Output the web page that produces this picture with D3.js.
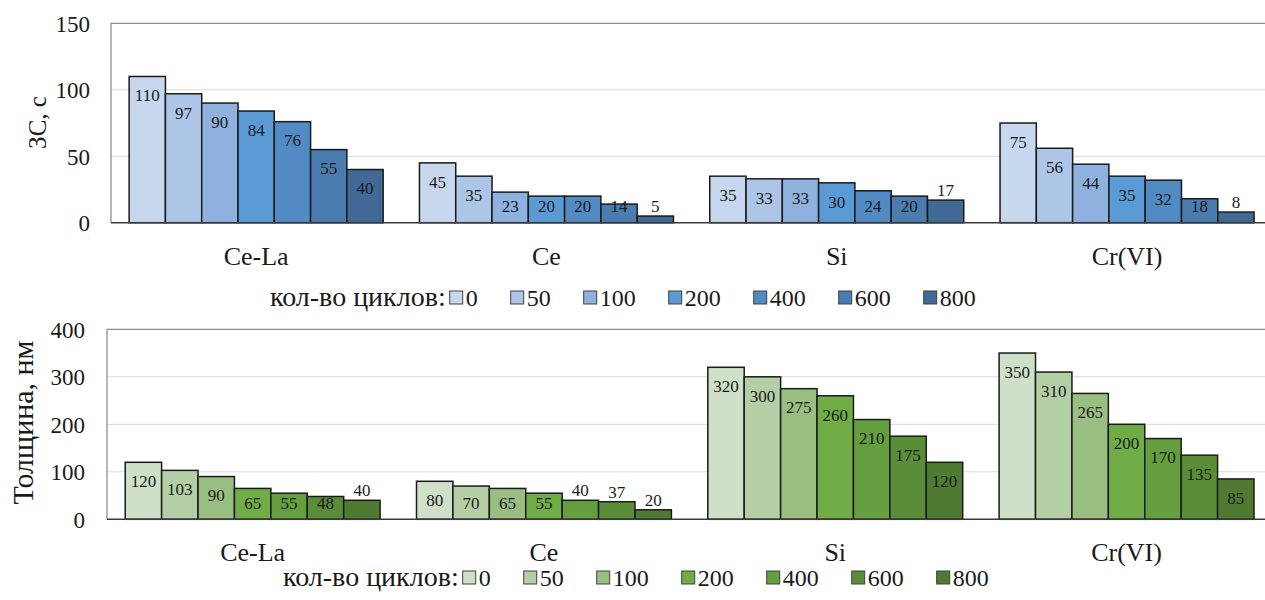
<!DOCTYPE html>
<html>
<head>
<meta charset="utf-8">
<script src="https://cdn.jsdelivr.net/npm/d3@7"></script>
<style>
    body { margin: 0; background: #fff; }
</style>
</head>
<body>
<div id="chart"></div>
<script>
'use strict';

var categories = ['Ce-La', 'Ce', 'Si', 'Cr(VI)'];
var cycles = ['0', '50', '100', '200', '400', '600', '800'];

// ЗС, с  (one row per category, one value per cycle count)
var zsValues = [
    [110, 97, 90, 84, 76, 55, 40],
    [45, 35, 23, 20, 20, 14, 5],
    [35, 33, 33, 30, 24, 20, 17],
    [75, 56, 44, 35, 32, 18, 8]
];
var zsTicks = [0, 50, 100, 150];

// Толщина, нм
var thickValues = [
    [120, 103, 90, 65, 55, 48, 40],
    [80, 70, 65, 55, 40, 37, 20],
    [320, 300, 275, 260, 210, 175, 120],
    [350, 310, 265, 200, 170, 135, 85]
];
var thickTicks = [0, 100, 200, 300, 400];

var blues = ['#c7d7ed', '#adc5e6', '#8eb1dd', '#5b9bd5', '#528bc4', '#4a7caf', '#406996'];
var greens = ['#cfe0c8', '#b4cfa6', '#98be82', '#70ad47', '#659e3f', '#5a8d38', '#4e7a31'];

// data labels that were put above their bars
var zsOutside = ['Ce|800', 'Si|800', 'Cr(VI)|800'];
var thickOutside = ['Ce-La|800', 'Ce|400', 'Ce|600', 'Ce|800'];

var FONT = '"Liberation Serif", "Times New Roman", serif';

var svg = d3.select('#chart')
    .append('svg')
    .attr('width', 1265)
    .attr('height', 600)
    .style('display', 'block')
    .style('font-family', FONT);

// every text gets the serif face and the same ink colour
var serif = function (sel, size) {
    return sel.attr('font-family', null)
        .style('font-family', FONT)
        .style('font-size', size + 'px')
        .style('fill', '#1a1a1a');
};

var drawPanel = function (cfg) {
    var g = svg.append('g');

    var x0 = d3.scaleBand()
        .domain(categories)
        .range([cfg.left, cfg.left + 4 * cfg.band]);
    var x1 = d3.scaleBand()
        .domain(cycles)
        .range([0, cfg.band])
        .paddingInner(0)
        .paddingOuter(0.5);
    var y = d3.scaleLinear()
        .domain([0, d3.max(cfg.ticks)])
        .range([cfg.bottom, cfg.top]);

    // gridlines
    g.selectAll('.grid')
        .data(cfg.ticks.slice(1, -1))
        .enter()
        .append('line')
        .attr('class', 'grid')
        .attr('x1', cfg.left)
        .attr('x2', 1265)
        .attr('y1', function (d) { return y(d); })
        .attr('y2', function (d) { return y(d); })
        .attr('stroke', '#d9d9d9')
        .attr('stroke-width', 1);

    // plot area border (top + left)
    g.append('path')
        .attr('d', 'M1265,' + y(d3.max(cfg.ticks)) + 'H' + cfg.left + 'V' + cfg.bottom)
        .attr('fill', 'none')
        .attr('stroke', '#707070')
        .attr('stroke-width', 1);

    // y axis labels
    var yAxis = g.append('g')
        .attr('transform', 'translate(' + cfg.left + ',0)')
        .call(d3.axisLeft(y).tickValues(cfg.ticks).tickSize(0).tickPadding(cfg.tickPad))
        .attr('font-family', null)
        .attr('font-size', null);
    yAxis.select('.domain').remove();
    serif(yAxis.selectAll('text'), cfg.tickSize)
        .attr('dy', '0.34em');

    var rows = categories.map(function (c, i) {
        return cycles.map(function (k, j) {
            return { cat: c, cyc: k, value: cfg.values[i][j], idx: j };
        });
    });

    var groups = g.selectAll('.group')
        .data(rows)
        .enter()
        .append('g')
        .attr('class', 'group')
        .attr('transform', function (d) { return 'translate(' + x0(d[0].cat) + ',0)'; });

    groups.selectAll('rect')
        .data(function (d) { return d; })
        .enter()
        .append('rect')
        .attr('x', function (d) { return x1(d.cyc); })
        .attr('y', function (d) { return y(d.value); })
        .attr('width', x1.bandwidth())
        .attr('height', function (d) { return cfg.bottom - y(d.value); })
        .attr('fill', function (d) { return cfg.colors[d.idx]; })
        .attr('stroke', '#1a1a1a')
        .attr('stroke-width', 1.5);

    serif(groups.selectAll('.lbl')
        .data(function (d) { return d; })
        .enter()
        .append('text')
        .attr('class', 'lbl')
        .attr('x', function (d) { return x1(d.cyc) + x1.bandwidth() / 2; })
        .attr('y', function (d) {
            if (cfg.outside.indexOf(d.cat + '|' + d.cyc) !== -1) {
                return y(d.value) - 10;
            }
            return Math.min(y(d.value) + 19, cfg.bottom - 16);
        })
        .attr('dy', '0.34em')
        .attr('text-anchor', 'middle')
        .text(function (d) { return d.value; }), 17);

    // baseline
    g.append('line')
        .attr('x1', cfg.left)
        .attr('x2', 1265)
        .attr('y1', cfg.bottom)
        .attr('y2', cfg.bottom)
        .attr('stroke', '#3a3a3a')
        .attr('stroke-width', 1.5);

    // category labels
    var xAxis = g.append('g')
        .attr('transform', 'translate(0,' + cfg.bottom + ')')
        .call(d3.axisBottom(x0).tickSize(0))
        .attr('font-family', null)
        .attr('font-size', null);
    xAxis.select('.domain').remove();
    serif(xAxis.selectAll('text'), 26)
        .attr('y', cfg.catY - cfg.bottom)
        .attr('dy', null);

    // y title
    serif(g.append('text')
        .attr('transform', 'translate(' + cfg.titleX + ',' + cfg.titleY + ') rotate(-90)')
        .attr('text-anchor', 'middle')
        .attr('dy', '0.35em')
        .text(cfg.title), cfg.titleSize);

    // legend
    var leg = g.append('g');
    var head = serif(leg.append('text')
        .attr('x', cfg.legendX)
        .attr('y', cfg.legendY)
        .text('кол-во циклов:'), 28);
    var cx = cfg.legendX + head.node().getComputedTextLength() + 4;
    cycles.forEach(function (k, j) {
        leg.append('rect')
            .attr('x', cx)
            .attr('y', cfg.legendY - 15)
            .attr('width', 13)
            .attr('height', 13)
            .attr('fill', cfg.colors[j])
            .attr('stroke', '#404040')
            .attr('stroke-width', 1);
        var t = serif(leg.append('text')
            .attr('x', cx + 16)
            .attr('y', cfg.legendY)
            .text(k), 24);
        cx += 16 + t.node().getComputedTextLength() + 33;
    });
};

drawPanel({
    values: zsValues, ticks: zsTicks, colors: blues, outside: zsOutside,
    left: 111, band: 290.3, top: 23.3, bottom: 222.7,
    tickPad: 21, tickSize: 23, catY: 265,
    title: 'ЗС, с', titleSize: 25, titleX: 37, titleY: 122.5,
    legendX: 270, legendY: 306
});

drawPanel({
    values: thickValues, ticks: thickTicks, colors: greens, outside: thickOutside,
    left: 107, band: 291.3, top: 329.3, bottom: 519.3,
    tickPad: 22, tickSize: 23, catY: 561,
    title: 'Толщина, нм', titleSize: 30, titleX: 22, titleY: 422.5,
    legendX: 283, legendY: 586
});
</script>
</body>
</html>
